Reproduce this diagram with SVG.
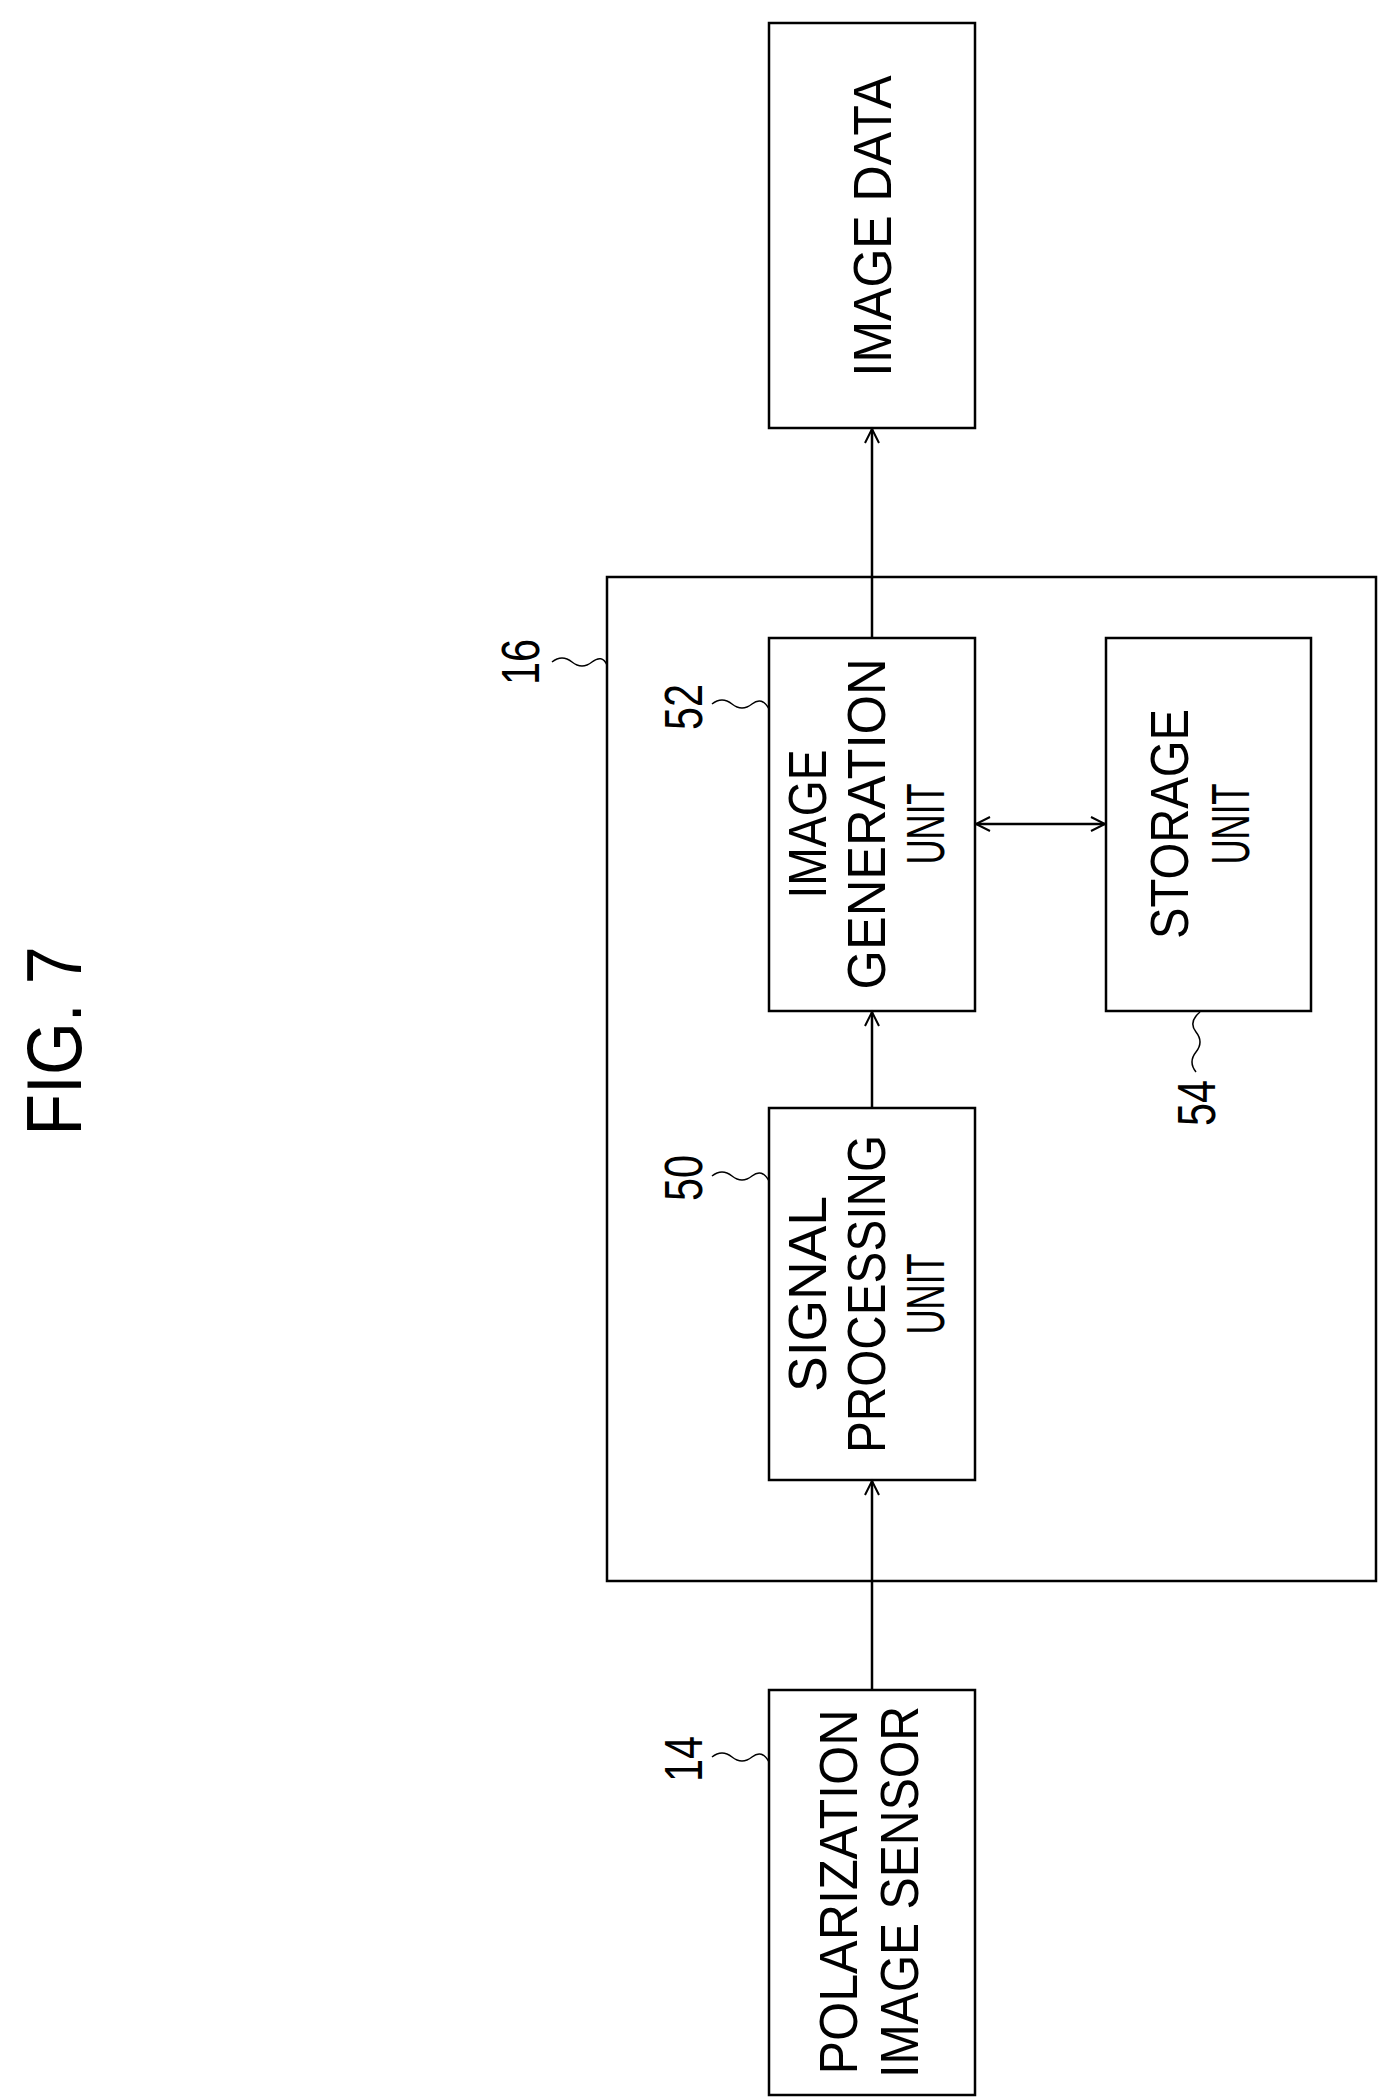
<svg xmlns="http://www.w3.org/2000/svg" width="1384" height="2098" viewBox="0 0 1384 2098">
<style>
.b{fill:none;stroke:#000;stroke-width:2.5}
.l{fill:none;stroke:#000;stroke-width:2.5}
text{font-family:"Liberation Sans",Arial,sans-serif;font-size:54px;fill:#000;text-anchor:middle;dominant-baseline:central}
</style>
<defs>
<marker id="a" markerWidth="20" markerHeight="20" refX="16" refY="8" orient="auto-start-reverse" markerUnits="userSpaceOnUse">
<path d="M2,1 L16,8 L2,15" fill="none" stroke="#000" stroke-width="2"/>
</marker>
</defs>
<text transform="translate(54,1041) rotate(-90)" style="font-size:78px" textLength="189" lengthAdjust="spacingAndGlyphs">FIG. 7</text>
<g id="n16"><rect class="b" x="607" y="577" width="769" height="1004"/>
<text transform="translate(520,662) rotate(-90)" textLength="46" lengthAdjust="spacingAndGlyphs">16</text>
<path class="l" d="M552,662 q10,-8 20,0 t20,0 t15,3" style="stroke-width:1.5"/></g>
<g id="imgdata"><rect class="b" x="769" y="23" width="206" height="405"/>
<text transform="translate(872,226) rotate(-90)" textLength="301" lengthAdjust="spacingAndGlyphs">IMAGE DATA</text></g>
<g id="n52"><rect class="b" x="769" y="638" width="206" height="373"/>
<text transform="translate(807,824) rotate(-90)" textLength="149" lengthAdjust="spacingAndGlyphs">IMAGE</text>
<text transform="translate(866,824) rotate(-90)" textLength="331" lengthAdjust="spacingAndGlyphs">GENERATION</text>
<text transform="translate(925,824) rotate(-90)" textLength="81" lengthAdjust="spacingAndGlyphs">UNIT</text>
<text transform="translate(683,707) rotate(-90)" textLength="46" lengthAdjust="spacingAndGlyphs">52</text>
<path class="l" d="M712,704 q10,-8 20,0 t20,0 t17,5" style="stroke-width:1.5"/></g>
<g id="n54"><rect class="b" x="1106" y="638" width="205" height="373"/>
<text transform="translate(1169,824) rotate(-90)" textLength="230" lengthAdjust="spacingAndGlyphs">STORAGE</text>
<text transform="translate(1230,824) rotate(-90)" textLength="81" lengthAdjust="spacingAndGlyphs">UNIT</text>
<text transform="translate(1196,1103) rotate(-90)" textLength="46" lengthAdjust="spacingAndGlyphs">54</text>
<path class="l" d="M1196,1072 q-8,-10 0,-20 t0,-20 t4,-20" style="stroke-width:1.5"/></g>
<g id="n50"><rect class="b" x="769" y="1108" width="206" height="372"/>
<text transform="translate(807,1294) rotate(-90)" textLength="196" lengthAdjust="spacingAndGlyphs">SIGNAL</text>
<text transform="translate(866,1294) rotate(-90)" textLength="318" lengthAdjust="spacingAndGlyphs">PROCESSING</text>
<text transform="translate(925,1294) rotate(-90)" textLength="81" lengthAdjust="spacingAndGlyphs">UNIT</text>
<text transform="translate(683,1178) rotate(-90)" textLength="46" lengthAdjust="spacingAndGlyphs">50</text>
<path class="l" d="M712,1176 q10,-8 20,0 t20,0 t17,5" style="stroke-width:1.5"/></g>
<g id="n14"><rect class="b" x="769" y="1690" width="206" height="405"/>
<text transform="translate(838,1892) rotate(-90)" textLength="365" lengthAdjust="spacingAndGlyphs">POLARIZATION</text>
<text transform="translate(899,1892) rotate(-90)" textLength="372" lengthAdjust="spacingAndGlyphs">IMAGE SENSOR</text>
<text transform="translate(683,1759) rotate(-90)" textLength="46" lengthAdjust="spacingAndGlyphs">14</text>
<path class="l" d="M712,1757 q10,-8 20,0 t20,0 t17,5" style="stroke-width:1.5"/></g>
<g id="connectors">
<path class="l" d="M872,1690 V1481" marker-end="url(#a)"/>
<path class="l" d="M872,1108 V1012" marker-end="url(#a)"/>
<path class="l" d="M872,638 V429" marker-end="url(#a)"/>
<path class="l" d="M976,824 H1105" marker-start="url(#a)" marker-end="url(#a)"/>
</g>
</svg>
